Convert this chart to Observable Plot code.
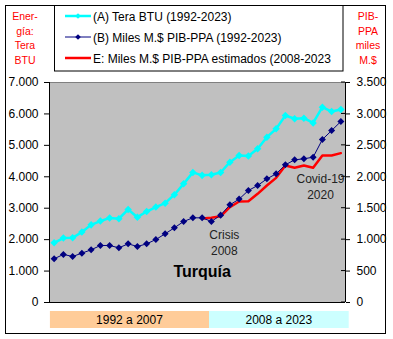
<!DOCTYPE html>
<html><head><meta charset="utf-8">
<script src="https://cdn.jsdelivr.net/npm/d3@7"></script>
<script src="https://cdn.jsdelivr.net/npm/@observablehq/plot@0.6"></script>
<style>body{margin:0;background:#fff}</style>
</head><body><div id="chart"></div>
<script>
const years = [1992,1993,1994,1995,1996,1997,1998,1999,2000,2001,2002,2003,2004,2005,2006,2007,2008,2009,2010,2011,2012,2013,2014,2015,2016,2017,2018,2019,2020,2021,2022,2023];
const energyTBTU = [1900,2050,2060,2240,2470,2590,2690,2665,2960,2715,2895,3035,3160,3430,3775,4140,4045,4065,4135,4465,4675,4665,4890,5260,5525,5950,5845,5865,5715,6215,6075,6140];
const gdpPPA = [695,765,732,785,838,907,907,870,933,891,933,1002,1093,1188,1289,1347,1347,1289,1390,1554,1645,1782,1861,1967,2047,2190,2270,2286,2312,2593,2736,2880];
const estYears = [2008,2009,2010,2011,2012,2013,2014,2015,2016,2017,2018,2019,2020,2021,2022,2023];
const gdpEst = [1335,1348,1372,1516,1607,1612,1729,1861,1983,2180,2143,2180,2143,2339,2339,2376];
const leftTicks = [0,1000,2000,3000,4000,5000,6000,7000];
const rightTicks = [0,500,1000,1500,2000,2500,3000,3500];
const legendLabels = ["(A) Tera BTU (1992-2023)","(B) Miles M.$ PIB-PPA (1992-2023)","E: Miles M.$ PIB-PPA estimados (2008-2023"];
const leftTitle = ["Ener-","gía:","Tera","BTU"];
const rightTitle = ["PIB-","PPA","miles","M.$"];
const periodLabels = ["1992 a 2007","2008 a 2023"];

const CYAN = "#00ffff", NAVY = "#000080", RED = "#ff0000";
const fmt = d3.formatLocale({decimal:",", thousands:".", grouping:[3], currency:["",""]}).format(",d");

const energy = years.map((y,i)=>({year:y, value:energyTBTU[i]}));
const gdp = years.map((y,i)=>({year:y, value:gdpPPA[i]*2}));
const est = estYears.map((y,i)=>({year:y, value:gdpEst[i]*2}));

const chart = Plot.plot({
  width: 393, height: 339,
  marginLeft: 49, marginRight: 48, marginTop: 82, marginBottom: 37,
  style: {fontFamily: "'Liberation Sans', Arial, sans-serif", fontSize: "12px", background: "#fff", color: "#000", overflow: "visible"},
  x: {type: "linear", domain: [1991.5, 2023.5], axis: null},
  y: {domain: [0, 7000], axis: null},
  marks: [
    Plot.frame({fill: "#c0c0c0", stroke: null}),
    Plot.ruleY([7000], {stroke: "#808080"}),
    Plot.line(energy, {x: "year", y: "value", stroke: CYAN, strokeWidth: 2.5}),
    Plot.dot(energy, {x: "year", y: "value", symbol: "square", r: 3, rotate: 45, fill: CYAN}),
    Plot.line(est, {x: "year", y: "value", stroke: RED, strokeWidth: 2.5}),
    Plot.line(gdp, {x: "year", y: "value", stroke: NAVY, strokeWidth: 1}),
    Plot.dot(gdp, {x: "year", y: "value", symbol: "square", r: 2.8, rotate: 45, fill: NAVY}),
    Plot.ruleX([1991.5], {stroke: "#000"}),
    Plot.ruleX([2023.5], {stroke: "#000"}),
    Plot.ruleY([0], {stroke: "#000"}),
    Plot.axisY({anchor: "left", ticks: leftTicks, tickFormat: fmt, tickSize: 5, tickPadding: 6, fontSize: 12, label: null}),
    Plot.axisY({anchor: "right", ticks: rightTicks.map(d => d * 2), tickFormat: d => fmt(d/2), tickSize: 4, tickPadding: 7, fontSize: 12, label: null}),
    Plot.text(["Crisis\n2008"], {x: 2010.4, y: 1941, text: d => d, fontSize: 12, fill: "#222", lineHeight: 1.35, lineAnchor: "middle"}),
    Plot.text(["Covid-19\n2020"], {x: 2020.8, y: 3723, text: d => d, fontSize: 12, fill: "#222", lineHeight: 1.35, lineAnchor: "middle"}),
    Plot.text(["Turquía"], {x: 2008, y: 986, text: d => d, fontSize: 16, fontWeight: "bold", fill: "#000", lineAnchor: "middle"})
  ]
});
document.getElementById("chart").appendChild(chart);

const svg = d3.select(chart);
const xs = d3.scaleLinear(chart.scale("x").domain, chart.scale("x").range);
const ys = d3.scaleLinear(chart.scale("y").domain, chart.scale("y").range);

// inward half of right ticks
svg.append("g").selectAll("line").data(rightTicks).join("line")
  .attr("x1", xs(2023.5) - 4).attr("x2", xs(2023.5))
  .attr("y1", d => ys(d * 2)).attr("y2", d => ys(d * 2)).attr("stroke", "#000");

// period bands
const bandBounds = [[1991.6, 2008.8], [2008.8, 2023.9]];
const bandFill = ["#ffcc99", "#ccffff"];
const gB = svg.append("g");
periodLabels.forEach((lab, i) => {
  const [a, b] = bandBounds[i];
  gB.append("rect").attr("x", xs(a)).attr("width", xs(b) - xs(a)).attr("y", 311).attr("height", 17).attr("fill", bandFill[i]);
  gB.append("text").attr("x", (xs(a) + xs(b)) / 2).attr("y", 323.5).attr("text-anchor", "middle")
    .attr("font-size", 12).attr("fill", "#000").text(lab);
});

// side titles
const gT = svg.append("g").attr("font-size", 10.5).attr("fill", RED).attr("text-anchor", "middle");
leftTitle.forEach((t, i) => gT.append("text").attr("x", 25).attr("y", 20 + i * 14.7).text(t));
rightTitle.forEach((t, i) => gT.append("text").attr("x", 368).attr("y", 20 + i * 14.7).text(t));

// legend
const gL = svg.append("g").attr("text-anchor", "start");
gL.append("rect").attr("x", 54.5).attr("y", 5.5).attr("width", 288.5).attr("height", 65.5).attr("fill", "#fff").attr("stroke", "#000");
const legColors = [CYAN, NAVY, RED];
const legWidths = [2.5, 1, 2.5];
legendLabels.forEach((lab, i) => {
  const yy = 16 + i * 21;
  gL.append("line").attr("x1", 65).attr("x2", 91).attr("y1", yy).attr("y2", yy).attr("stroke", legColors[i]).attr("stroke-width", legWidths[i]);
  if (i < 2) gL.append("path").attr("d", d3.symbol(d3.symbolSquare, 16)()).attr("transform", `translate(78,${yy}) rotate(45)`).attr("fill", legColors[i]);
  gL.append("text").attr("x", 93).attr("y", yy + 4.5).attr("font-size", 12).attr("fill", "#000").attr("text-anchor", "start").text(lab);
});

// outer border
svg.append("rect").attr("x", 5.5).attr("y", 5.5).attr("width", 380).attr("height", 328).attr("fill", "none").attr("stroke", "#000");
</script></body></html>
